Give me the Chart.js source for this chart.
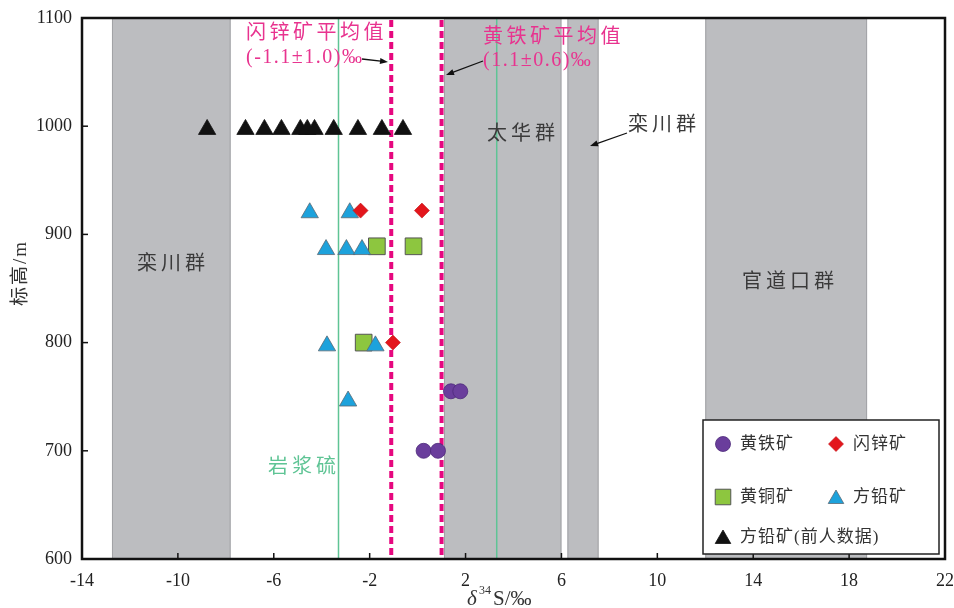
<!DOCTYPE html>
<html>
<head>
<meta charset="utf-8">
<script src="https://cdn.jsdelivr.net/npm/chart.js@4.4.1/dist/chart.umd.min.js"></script>
<style>
  html, body { margin: 0; padding: 0; background: #fff; }
  #wrap { width: 954px; height: 608px; position: relative; }
</style>
</head>
<body>
<div id="wrap"><canvas id="chart"></canvas></div>
<script>
// δ34S (‰) vs elevation (m)
const pyriteX = [1.39, 1.78, 0.25, 0.85];
const pyriteY = [755, 755, 700, 700];
const sphaleriteX = [-2.38, 0.18, -1.03];
const sphaleriteY = [922, 922, 800];
const chalcopyriteX = [-1.70, -0.17, -2.25];
const chalcopyriteY = [889, 889, 800];
const galenaX = [-4.5, -2.83, -3.82, -2.97, -2.32, -3.78, -1.76, -2.9];
const galenaY = [920, 920, 886, 886, 886, 797, 797, 746];
const prevGalenaX = [-8.78, -7.18, -6.39, -5.68, -4.89, -4.6, -4.3, -3.5, -2.49, -1.49, -0.61];
const prevGalenaY = [997, 997, 997, 997, 997, 997, 997, 997, 997, 997, 997];

// strata bands [from, to] in δ34S
const bandFrom = [-12.75, 1.1, 6.25, 12.0];
const bandTo = [-7.8, 6.0, 7.55, 18.75];
const magmaticLines = [-3.3, 3.3];
const meanLines = [-1.1, 1.0];

const xTicks = [-14, -10, -6, -2, 2, 6, 10, 14, 18, 22];
const yTicks = [600, 700, 800, 900, 1000, 1100];

const SERIF = '"Liberation Serif", "Noto Sans CJK SC", serif';
const CJK = '"Noto Sans CJK SC", sans-serif';

function toPoints(xs, ys) {
    return xs.map((x, i) => ({ x, y: ys[i] }));
}

function drawShape(ctx, style, x, y, r) {
    ctx.beginPath();
    if (style === 'circle') {
        ctx.arc(x, y, r, 0, Math.PI * 2);
    } else if (style === 'rect') {
        const s = Math.SQRT1_2 * r;
        ctx.rect(x - s, y - s, 2 * s, 2 * s);
    } else if (style === 'rectRot') {
        ctx.moveTo(x - r, y);
        ctx.lineTo(x, y - r);
        ctx.lineTo(x + r, y);
        ctx.lineTo(x, y + r);
    } else {
        for (let k = 0; k < 3; k++) {
            const a = k * 2 * Math.PI / 3;
            const px = x + Math.sin(a) * r;
            const py = y - Math.cos(a) * r;
            if (k === 0) ctx.moveTo(px, py); else ctx.lineTo(px, py);
        }
    }
    ctx.closePath();
}

function arrow(ctx, x1, y1, x2, y2) {
    const ang = Math.atan2(y2 - y1, x2 - x1);
    ctx.save();
    ctx.strokeStyle = '#111';
    ctx.fillStyle = '#111';
    ctx.lineWidth = 1.3;
    ctx.beginPath();
    ctx.moveTo(x1, y1);
    ctx.lineTo(x2 - Math.cos(ang) * 5, y2 - Math.sin(ang) * 5);
    ctx.stroke();
    ctx.beginPath();
    ctx.moveTo(x2, y2);
    ctx.lineTo(x2 - Math.cos(ang) * 8 + Math.sin(ang) * 3, y2 - Math.sin(ang) * 8 - Math.cos(ang) * 3);
    ctx.lineTo(x2 - Math.cos(ang) * 8 - Math.sin(ang) * 3, y2 - Math.sin(ang) * 8 + Math.cos(ang) * 3);
    ctx.closePath();
    ctx.fill();
    ctx.restore();
}

function text(ctx, str, x, y, font, color, spacing) {
    ctx.save();
    ctx.font = font;
    ctx.fillStyle = color;
    ctx.textAlign = 'left';
    ctx.textBaseline = 'middle';
    ctx.letterSpacing = (spacing || 0) + 'px';
    ctx.fillText(str, x, y);
    ctx.restore();
}

const legendPos = [[723, 444], [836, 444], [723, 497], [836, 497], [723, 537]];

const backdrop = {
    id: 'backdrop',
    beforeDatasetsDraw(chart) {
        const { ctx, chartArea: a, scales: { x } } = chart;
        ctx.save();
        // strata bands
        bandFrom.forEach((from, i) => {
            const l = x.getPixelForValue(from);
            const r = x.getPixelForValue(bandTo[i]);
            ctx.fillStyle = '#bcbdc0';
            ctx.fillRect(l, a.top, r - l, a.bottom - a.top);
            ctx.strokeStyle = '#a2a3a6';
            ctx.lineWidth = 1;
            ctx.strokeRect(l + 0.5, a.top, r - l - 1, a.bottom - a.top);
        });
        // magmatic sulfur range
        ctx.strokeStyle = '#5fc495';
        ctx.lineWidth = 1.5;
        magmaticLines.forEach((v) => {
            const p = x.getPixelForValue(v);
            ctx.beginPath();
            ctx.moveTo(p, a.top);
            ctx.lineTo(p, a.bottom);
            ctx.stroke();
        });
        // mean values
        ctx.strokeStyle = '#e6087f';
        ctx.lineWidth = 4;
        ctx.setLineDash([7, 4]);
        meanLines.forEach((v) => {
            const p = x.getPixelForValue(v);
            ctx.beginPath();
            ctx.moveTo(p, a.top + 2);
            ctx.lineTo(p, a.bottom);
            ctx.stroke();
        });
        ctx.setLineDash([]);
        ctx.restore();

        const grp = '20px ' + CJK;
        text(ctx, '栾川群', 137, 262, grp, '#3a3a3a', 4);
        text(ctx, '太华群', 487, 132, grp, '#3a3a3a', 4);
        text(ctx, '栾川群', 628, 123, grp, '#3a3a3a', 4);
        text(ctx, '官道口群', 742, 280, grp, '#3a3a3a', 4);
        text(ctx, '岩浆硫', 268, 465, grp, '#5fc495', 4);

        const pink = '#e8338f';
        text(ctx, '闪锌矿平均值', 246, 31, grp, pink, 3.5);
        text(ctx, '(-1.1±1.0)‰', 246, 58, '20px ' + SERIF, pink, 1.5);
        text(ctx, '黄铁矿平均值', 483, 35, grp, pink, 3.5);
        text(ctx, '(1.1±0.6)‰', 483, 61, '20px ' + SERIF, pink, 1.5);

        arrow(ctx, 362, 59, 388, 62);
        arrow(ctx, 483, 61, 446, 75);
        arrow(ctx, 627, 133, 590, 146);
    },
    afterDraw(chart) {
        const { ctx, chartArea: a, scales: { x, y } } = chart;
        ctx.save();
        // inward ticks
        ctx.strokeStyle = '#111';
        ctx.lineWidth = 1.5;
        xTicks.forEach((v) => {
            const p = x.getPixelForValue(v);
            ctx.beginPath();
            ctx.moveTo(p, a.bottom);
            ctx.lineTo(p, a.bottom - 6);
            ctx.stroke();
        });
        yTicks.forEach((v) => {
            const p = y.getPixelForValue(v);
            ctx.beginPath();
            ctx.moveTo(a.left, p);
            ctx.lineTo(a.left + 6, p);
            ctx.stroke();
        });
        // frame
        ctx.lineWidth = 2.5;
        ctx.strokeRect(a.left, a.top, a.right - a.left, a.bottom - a.top);

        // legend
        const bx = 703, by = 420, bw = 236, bh = 134;
        ctx.fillStyle = '#fff';
        ctx.fillRect(bx, by, bw, bh);
        ctx.lineWidth = 1.5;
        ctx.strokeStyle = '#222';
        ctx.strokeRect(bx, by, bw, bh);
        chart.data.datasets.forEach((ds, i) => {
            const pos = legendPos[i];
            ctx.fillStyle = ds.backgroundColor;
            ctx.strokeStyle = ds.borderColor;
            ctx.lineWidth = ds.borderWidth;
            const r = ds.pointStyle === 'triangle' ? 9 : ds.pointStyle === 'rect' ? 11 : 7.5;
            drawShape(ctx, ds.pointStyle, pos[0], pos[1] + (ds.pointStyle === 'triangle' ? 2 : 0), r);
            ctx.fill();
            ctx.stroke();
            text(ctx, ds.label, pos[0] + 17, pos[1] + 1, '17px ' + SERIF, '#333', 1);
        });

        // axis titles
        ctx.fillStyle = '#333';
        ctx.textBaseline = 'alphabetic';
        ctx.font = 'italic 21px ' + SERIF;
        ctx.fillText('δ', 467, 605);
        ctx.font = '12px ' + SERIF;
        ctx.fillText('34', 479, 594);
        ctx.font = '21px ' + SERIF;
        ctx.fillText('S/‰', 493, 605);

        ctx.translate(21, 273);
        ctx.rotate(-Math.PI / 2);
        ctx.textAlign = 'center';
        ctx.textBaseline = 'middle';
        ctx.font = '19px ' + SERIF;
        ctx.letterSpacing = '2px';
        ctx.fillText('标高/m', 0, 0);
        ctx.restore();
    }
};

new Chart(document.getElementById('chart'), {
    type: 'scatter',
    data: {
        datasets: [
            {
                label: '黄铁矿',
                data: toPoints(pyriteX, pyriteY),
                pointStyle: 'circle',
                radius: 7.5,
                backgroundColor: '#6a3e9c',
                borderColor: '#4d2a7a',
                borderWidth: 0.8,
                order: 1
            },
            {
                label: '闪锌矿',
                data: toPoints(sphaleriteX, sphaleriteY),
                pointStyle: 'rectRot',
                radius: 7.5,
                backgroundColor: '#e3161c',
                borderColor: '#c01015',
                borderWidth: 0.6,
                order: 2
            },
            {
                label: '黄铜矿',
                data: toPoints(chalcopyriteX, chalcopyriteY),
                pointStyle: 'rect',
                radius: 11.8,
                backgroundColor: '#8dc63f',
                borderColor: '#555',
                borderWidth: 1,
                order: 4
            },
            {
                label: '方铅矿',
                data: toPoints(galenaX, galenaY),
                pointStyle: 'triangle',
                radius: 10,
                backgroundColor: '#1da2dc',
                borderColor: '#5a6a75',
                borderWidth: 0.8,
                order: 3
            },
            {
                label: '方铅矿(前人数据)',
                data: toPoints(prevGalenaX, prevGalenaY),
                pointStyle: 'triangle',
                radius: 10,
                backgroundColor: '#111',
                borderColor: '#111',
                borderWidth: 0.8,
                order: 5
            }
        ]
    },
    options: {
        responsive: true,
        maintainAspectRatio: false,
        animation: false,
        layout: { autoPadding: false, padding: { left: 0, top: 18, right: 9, bottom: 0 } },
        plugins: {
            legend: { display: false },
            tooltip: { enabled: false }
        },
        elements: { point: { hoverRadius: 10 } },
        scales: {
            x: {
                type: 'linear',
                min: -14,
                max: 22,
                afterBuildTicks: (s) => { s.ticks = xTicks.map((v) => ({ value: v })); },
                afterFit: (s) => {
                    s.height = 49;
                    s.paddingLeft = 0;
                    s.paddingRight = 0;
                },
                grid: { display: false, drawTicks: false },
                border: { display: false },
                ticks: {
                    padding: 11,
                    color: '#222',
                    callback: (v) => String(v),
                    font: { family: 'Liberation Serif', size: 18 }
                }
            },
            y: {
                type: 'linear',
                min: 600,
                max: 1100,
                afterBuildTicks: (s) => { s.ticks = yTicks.map((v) => ({ value: v })); },
                afterFit: (s) => {
                    s.width = 82;
                    s.paddingTop = 0;
                    s.paddingBottom = 0;
                },
                grid: { display: false, drawTicks: false },
                border: { display: false },
                ticks: {
                    padding: 10,
                    color: '#222',
                    callback: (v) => String(v),
                    font: { family: 'Liberation Serif', size: 18 }
                }
            }
        }
    },
    plugins: [backdrop]
});
</script>
</body>
</html>
